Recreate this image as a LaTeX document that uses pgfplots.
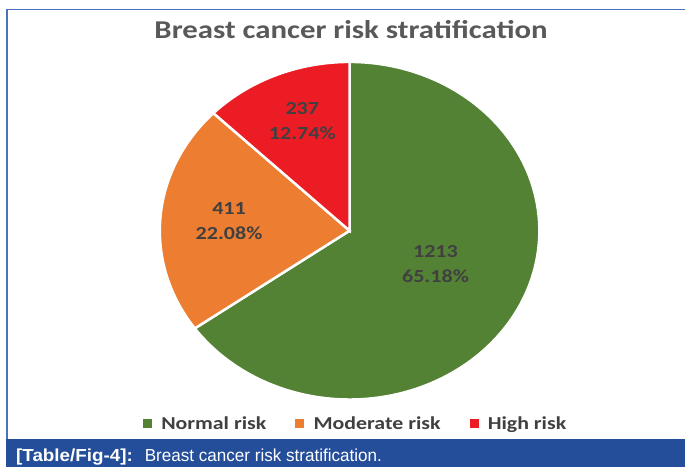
\documentclass[border=0pt]{standalone}
\usepackage{pgfplots}
\pgfplotsset{compat=1.18}
\usepackage{pgfplotstable}
\usepackage{fontspec}
\setmainfont{Carlito}
\newfontfamily\widefont[FakeStretch=1.2]{Carlito}
\newfontfamily\capfont[FakeStretch=0.98]{Liberation Sans}
\newfontfamily\capfontb[FakeStretch=1.08]{Liberation Sans}

\definecolor{cnormal}{HTML}{548235}
\definecolor{cmod}{HTML}{ED7D31}
\definecolor{chigh}{HTML}{EC1C24}
\definecolor{txtgray}{HTML}{404040}
\definecolor{ttlgray}{HTML}{595959}
\definecolor{capblue}{HTML}{254E9A}
\definecolor{brdblue}{HTML}{4A72BE}

\pgfplotstableread{
label count
Normal 1213
Moderate 411
High 237
}\piedata

\pgfplotstablegetelem{0}{count}\of\piedata \let\cA\pgfplotsretval
\pgfplotstablegetelem{1}{count}\of\piedata \let\cB\pgfplotsretval
\pgfplotstablegetelem{2}{count}\of\piedata \let\cC\pgfplotsretval
\pgfmathsetmacro{\tot}{\cA+\cB+\cC}
\pgfmathsetmacro{\fA}{\cA/\tot}
\pgfmathsetmacro{\fB}{\cB/\tot}
\pgfmathsetmacro{\fC}{\cC/\tot}
\pgfmathsetmacro{\aZero}{90}
\pgfmathsetmacro{\aOne}{90-360*\fA}
\pgfmathsetmacro{\aTwo}{\aOne-360*\fB}
\pgfmathsetmacro{\aThree}{\aTwo-360*\fC}

\begin{document}
\begin{tikzpicture}
\fill[white] (0bp,0bp) rectangle (686bp,468bp);
% frame
\draw[brdblue, line width=1.6bp] (7bp,28bp) -- (7bp,458.5bp) -- (686bp,458.5bp);
\fill[capblue] (6bp,0bp) rectangle (686bp,28bp);
\node[anchor=west, text=white, inner sep=0pt] at (16bp,10bp)
  {\fontsize{17.5}{20}\selectfont{\capfontb\bfseries [Table/Fig-4]:}\hspace{12bp}{\capfont Breast cancer risk stratification.}};
% title
\node[text=ttlgray, inner sep=0pt, font=\widefont\bfseries\fontsize{25.8}{30}\selectfont] at (351.5bp,438bp) {Breast cancer risk stratification};
\begin{axis}[
  at={(350bp,237bp)}, anchor=center,
  scale only axis, width=380bp, height=338bp,
  xmin=-1, xmax=1, ymin=-1, ymax=1,
  hide axis, clip=false,
  legend columns=3,
  legend style={draw=none, fill=none, at={(axis description cs:0.516,-0.071)}, anchor=center,
    font=\widefont\bfseries\fontsize{18.3}{22}\selectfont, text=txtgray,
    /tikz/every even column/.append style={column sep=27bp},
    inner sep=0pt},
  legend image code/.code={\fill[#1, draw=none] (0bp,-4.5bp) rectangle (9bp,4.5bp); \path (15bp,0bp);},
]
\addplot[fill=cnormal, draw=white, line width=2.5bp, domain=\aOne:\aZero, samples=160, variable=\t]
  ({cos(\t)},{sin(\t)}) -- (axis cs:0,0) -- cycle;
\addlegendentry{Normal risk}
\addplot[fill=cmod, draw=white, line width=2.5bp, domain=\aTwo:\aOne, samples=80, variable=\t]
  ({cos(\t)},{sin(\t)}) -- (axis cs:0,0) -- cycle;
\addlegendentry{Moderate risk}
\addplot[fill=chigh, draw=white, line width=2.5bp, domain=\aThree:\aTwo, samples=60, variable=\t]
  ({cos(\t)},{sin(\t)}) -- (axis cs:0,0) -- cycle;
\addlegendentry{High risk}
\node[text=txtgray, align=center, font=\widefont\bfseries\fontsize{18.5}{24.4}\selectfont] at (axis cs:0.4526,-0.198) {1213\\65.18\%};
\node[text=txtgray, align=center, font=\widefont\bfseries\fontsize{18.5}{24.4}\selectfont] at (axis cs:-0.635,0.057) {411\\22.08\%};
\node[text=txtgray, align=center, font=\widefont\bfseries\fontsize{18.5}{24.4}\selectfont] at (axis cs:-0.249,0.649) {237\\12.74\%};
\end{axis}
\end{tikzpicture}
\end{document}
